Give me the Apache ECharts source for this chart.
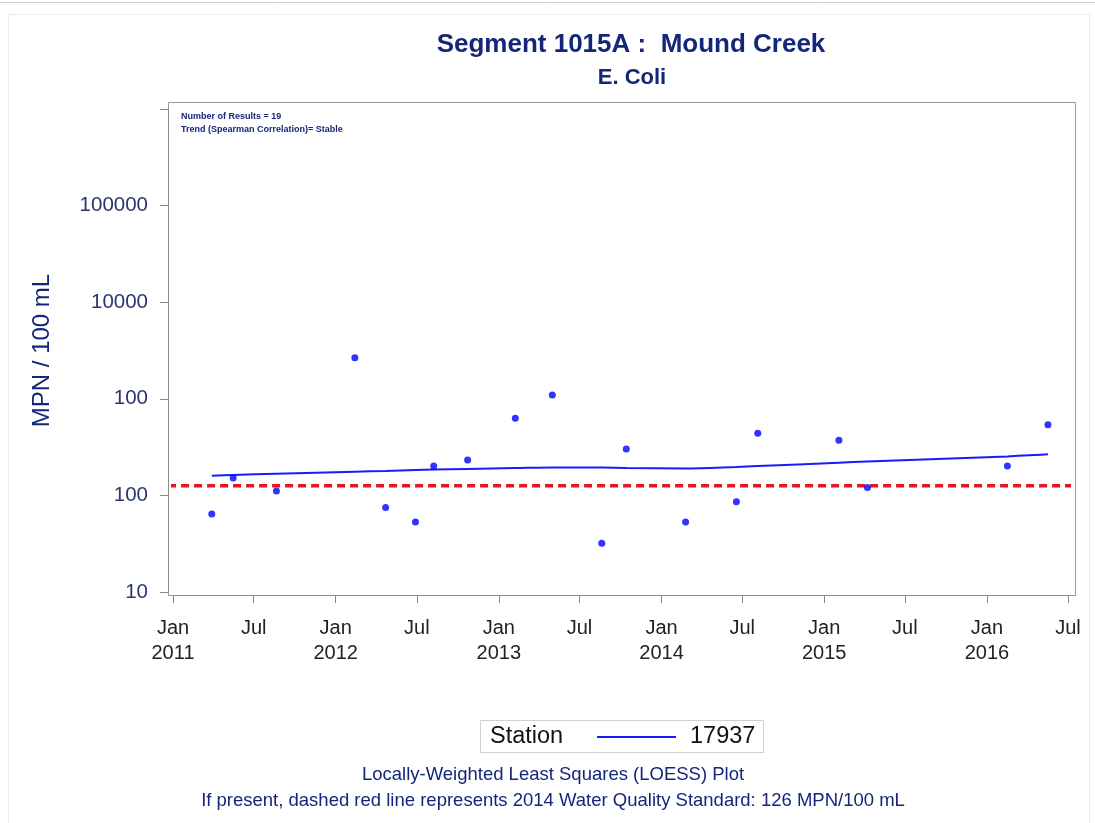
<!DOCTYPE html>
<html>
<head>
<meta charset="utf-8">
<title>Segment 1015A : Mound Creek - E. Coli</title>
<script src="https://cdn.jsdelivr.net/npm/echarts@6/dist/echarts.min.js"></script>
<style>
  html, body { margin: 0; padding: 0; background: #ffffff; }
  #chart { width: 1095px; height: 823px; }
</style>
</head>
<body>
<div id="chart"></div>
<script>
// Sample dates and E. coli results (MPN/100 mL), station 17937
const sampleDates = [
  '2011-03-29', '2011-05-16', '2011-08-21', '2012-02-13', '2012-04-22',
  '2012-06-28', '2012-08-08', '2012-10-23', '2013-02-07', '2013-05-01',
  '2013-08-20', '2013-10-14', '2014-02-24', '2014-06-18', '2014-08-05',
  '2015-02-03', '2015-04-08', '2016-02-16', '2016-05-17'
];
const ecoliValues = [
  64, 151, 111, 2660, 75,
  53, 201, 232, 628, 1095,
  32, 302, 53, 86, 439,
  372, 121, 201, 539
];
// LOESS fit evaluated at the sample dates
const loessValues = [
  160, 163, 168, 176, 179,
  183, 185, 188, 192, 195,
  194, 192, 190, 197, 201,
  218, 224, 253, 266
];
// Water quality standard
const standardValue = 126;
const standardSpan = ['2010-12-21', '2016-07-24'];

// Axis ticks
const xTickDates = [
  '2011-01-01', '2011-07-01', '2012-01-01', '2012-07-01', '2013-01-01', '2013-07-01',
  '2014-01-01', '2014-07-01', '2015-01-01', '2015-07-01', '2016-01-01', '2016-07-01'
];
const yTickLabels = ['10', '100', '100', '10000', '100000', ''];

const stationName = '17937';
const monthNames = ['Jan', 'Feb', 'Mar', 'Apr', 'May', 'Jun', 'Jul', 'Aug', 'Sep', 'Oct', 'Nov', 'Dec'];

function ts(d) {
  const p = d.split('-').map(Number);
  return Date.UTC(p[0], p[1] - 1, p[2]);
}

const navy = '#14267a';
const font = 'Liberation Sans, Arial, sans-serif';
const tickTs = xTickDates.map(ts);

const chart = echarts.init(document.getElementById('chart'), null, { renderer: 'canvas' });

chart.setOption({
  backgroundColor: '#ffffff',
  animation: false,
  title: [
    {
      text: 'Segment 1015A :  Mound Creek',
      left: 626, top: 27, textAlign: 'center',
      textStyle: { fontFamily: font, fontWeight: 'bold', fontSize: 26, color: navy }
    },
    {
      text: 'E. Coli',
      left: 627, top: 62, textAlign: 'center',
      textStyle: { fontFamily: font, fontWeight: 'bold', fontSize: 22, color: navy }
    },
    {
      text: 'Number of Results = 19\nTrend (Spearman Correlation)= Stable',
      left: 181, top: 110, padding: 0,
      textStyle: { fontFamily: font, fontWeight: 'bold', fontSize: 9, lineHeight: 13, color: navy }
    },
    {
      text: 'Locally-Weighted Least Squares (LOESS) Plot',
      left: 553, top: 762, textAlign: 'center', padding: 0,
      textStyle: { fontFamily: font, fontWeight: 'normal', fontSize: 18.5, lineHeight: 26, color: navy }
    },
    {
      text: 'If present, dashed red line represents 2014 Water Quality Standard: 126 MPN/100 mL',
      left: 553, top: 788, textAlign: 'center', padding: 0,
      textStyle: { fontFamily: font, fontWeight: 'normal', fontSize: 18.5, lineHeight: 26, color: navy }
    }
  ],
  legend: {
    data: [{ name: stationName, icon: 'rect' }],
    left: 597, top: 725, padding: 0,
    itemWidth: 79, itemHeight: 2, itemGap: 10,
    textStyle: { fontFamily: font, fontSize: 23.5, color: '#111111', padding: [0, 0, 0, 9] },
    selectedMode: false
  },
  grid: { left: 173, right: 27, top: 109, bottom: 231, containLabel: false },
  xAxis: {
    type: 'value',
    min: tickTs[0],
    max: tickTs[tickTs.length - 1],
    offset: 3,
    splitLine: { show: false },
    axisLine: { show: true, lineStyle: { color: '#8a8a8a', width: 1 } },
    axisTick: { show: true, customValues: tickTs, length: 8, lineStyle: { color: '#8a8a8a' } },
    axisLabel: {
      customValues: tickTs,
      margin: 21,
      fontFamily: font, fontSize: 20, color: '#222222', lineHeight: 25,
      formatter: function (v) {
        const d = new Date(v);
        const m = monthNames[d.getUTCMonth()];
        return d.getUTCMonth() === 0 ? m + '\n' + d.getUTCFullYear() : m + '\n ';
      }
    }
  },
  yAxis: {
    type: 'log',
    logBase: 10,
    min: 10,
    max: 1000000,
    offset: 5,
    name: 'MPN / 100 mL',
    nameLocation: 'middle',
    nameGap: 114,
    nameTextStyle: { fontFamily: font, fontSize: 24, color: navy },
    splitLine: { show: false },
    axisLine: { show: true, lineStyle: { color: '#8a8a8a', width: 1 } },
    axisTick: { show: true, length: 8, lineStyle: { color: '#8a8a8a' } },
    axisLabel: {
      margin: 20,
      fontFamily: font, fontSize: 20.5, color: '#2b3670',
      formatter: function (v) {
        const i = Math.round(Math.log10(v)) - 1;
        return yTickLabels[i] !== undefined ? yTickLabels[i] : '';
      }
    }
  },
  graphic: [
    {
      type: 'line',
      shape: { x1: 0, y1: 2.5, x2: 1095, y2: 2.5 },
      style: { stroke: '#cfcfcf', lineWidth: 1 },
      silent: true
    },
    {
      type: 'rect',
      shape: { x: 8.5, y: 14.5, width: 1081, height: 812 },
      style: { fill: 'none', stroke: '#ececec', lineWidth: 1 },
      silent: true
    },
    {
      type: 'rect',
      shape: { x: 168.5, y: 102.5, width: 907, height: 493 },
      style: { fill: 'none', stroke: '#9a9a9a', lineWidth: 1 },
      silent: true, z: 0
    },
    {
      type: 'rect',
      shape: { x: 480.5, y: 720.5, width: 283, height: 32 },
      style: { fill: 'none', stroke: '#d0d0d0', lineWidth: 1 },
      silent: true
    },
    {
      type: 'text',
      left: 490, top: 725,
      style: { text: 'Station', fontFamily: font, fontSize: 23.5, fill: '#111111' },
      silent: true
    }
  ],
  series: [
    {
      name: 'Standard',
      type: 'line',
      clip: false,
      symbol: 'none',
      silent: true,
      data: standardSpan.map(d => [ts(d), standardValue]),
      lineStyle: { color: '#e8141e', width: 3.5, type: [8, 5] },
      z: 2
    },
    {
      name: stationName,
      type: 'line',
      symbol: 'none',
      smooth: 0.3,
      data: sampleDates.map((d, i) => [ts(d), loessValues[i]]),
      lineStyle: { color: '#1a1aff', width: 2 },
      itemStyle: { color: '#1a1aff' },
      z: 3
    },
    {
      name: 'Results',
      type: 'scatter',
      symbol: 'circle',
      symbolSize: 7,
      data: sampleDates.map((d, i) => [ts(d), ecoliValues[i]]),
      itemStyle: { color: '#0000ff' },
      z: 4
    }
  ]
});
</script>
</body>
</html>
